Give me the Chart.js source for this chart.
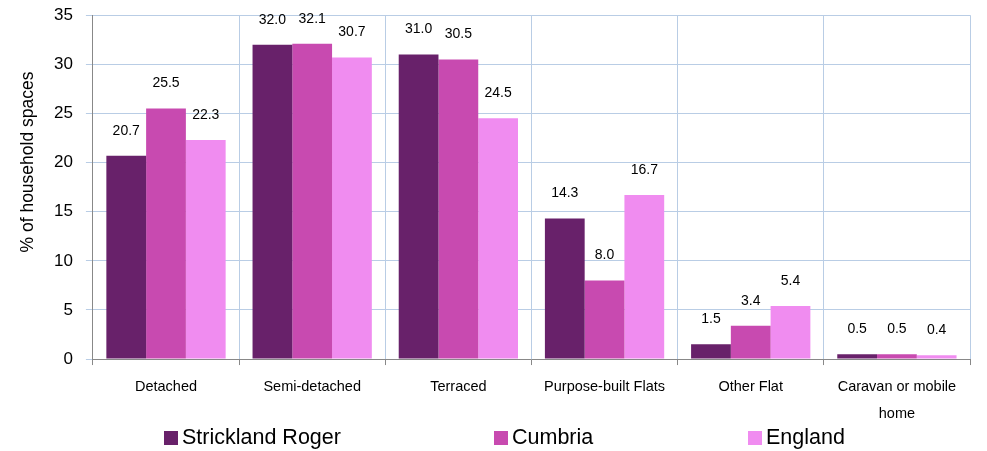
<!DOCTYPE html>
<html>
<head>
<meta charset="utf-8">
<script src="https://cdn.jsdelivr.net/npm/chart.js@4"></script>
<style>
  html, body { margin: 0; padding: 0; background: #fff; overflow: hidden; }
  #wrap { position: relative; width: 987px; height: 451px; overflow: hidden; }
  #grafica { position: absolute; left: 0; top: -8px; }
  #leyenda { position: absolute; left: 0; top: 423px; width: 987px; height: 28px;
             font-family: "Liberation Sans", Arial, sans-serif; font-size: 21.5px; color: #000; }
  #leyenda span.item { position: absolute; top: 0; white-space: nowrap; line-height: 28px; }
  #leyenda i { display: inline-block; width: 14px; height: 14px; margin-right: 4px; vertical-align: -1px; }
</style>
</head>
<body>
<div id="wrap">
  <canvas id="grafica" width="987" height="459"></canvas>
  <div id="leyenda"></div>
</div>
<script>
const categorias = ['Detached', 'Semi-detached', 'Terraced', 'Purpose-built Flats', 'Other Flat', ['Caravan or mobile', 'home']];
const series = ['Strickland Roger', 'Cumbria', 'England'];
const strickland = [20.7, 32.0, 31.0, 14.3, 1.5, 0.5];
const cumbria = [25.5, 32.1, 30.5, 8.0, 3.4, 0.5];
const england = [22.3, 30.7, 24.5, 16.7, 5.4, 0.4];
const tituloY = '% of household spaces';
const colores = ['#68216A', '#C84AB0', '#F08CF0'];
const fuente = '"Liberation Sans", Arial, sans-serif';

// etiquetas de valor encima de cada barra
const etiquetasValor = {
    id: 'etiquetasValor',
    afterDatasetsDraw(chart) {
        const c = chart.ctx;
        c.save();
        c.font = '14px ' + fuente;
        c.fillStyle = '#000';
        c.textAlign = 'center';
        c.textBaseline = 'middle';
        chart.data.datasets.forEach((ds, i) => {
            chart.getDatasetMeta(i).data.forEach((bar, j) => {
                c.fillText(ds.data[j].toFixed(1), bar.x, bar.y - 25);
            });
        });
        c.restore();
    }
};

// titulo del eje Y, algo por encima del centro como en el original
const tituloEjeY = {
    id: 'tituloEjeY',
    afterDraw(chart) {
        const c = chart.ctx;
        c.save();
        c.translate(28, 170);
        c.rotate(-Math.PI / 2);
        c.font = '17.5px ' + fuente;
        c.fillStyle = '#000';
        c.textAlign = 'center';
        c.textBaseline = 'middle';
        c.fillText(tituloY, 0, 0);
        c.restore();
    }
};

const ctx = document.getElementById('grafica').getContext('2d');
new Chart(ctx, {
    type: 'bar',
    data: {
        labels: categorias,
        datasets: [
            { label: series[0], data: strickland, backgroundColor: colores[0] },
            { label: series[1], data: cumbria, backgroundColor: colores[1] },
            { label: series[2], data: england, backgroundColor: colores[2] }
        ]
    },
    options: {
        responsive: false,
        animation: false,
        datasets: { bar: { categoryPercentage: 0.816, barPercentage: 1.0 } },
        layout: { padding: { left: 41, right: 17, top: 1, bottom: 16 } },
        scales: {
            x: {
                grid: { color: '#B9CDE5', tickColor: '#888', tickLength: 6, offset: true },
                border: { color: '#888', width: 1 },
                ticks: { color: '#000', font: { family: fuente, size: 14.5, lineHeight: 1.86 }, maxRotation: 0, padding: 8, autoSkip: false }
            },
            y: {
                min: 0, max: 35,
                grid: { color: '#B9CDE5', tickColor: '#B9CDE5', tickLength: 7 },
                border: { color: '#888', width: 1 },
                ticks: { stepSize: 5, autoSkip: false, color: '#000', font: { family: fuente, size: 17 }, padding: 13 }
            }
        },
        plugins: {
            legend: { display: false },
            tooltip: { enabled: false }
        }
    },
    plugins: [etiquetasValor, tituloEjeY]
});

// leyenda propia, repartida como en el original
const posLeyenda = [164, 494, 748];
const leyenda = document.getElementById('leyenda');
series.forEach((nombre, i) => {
    const item = document.createElement('span');
    item.className = 'item';
    item.style.left = posLeyenda[i] + 'px';
    item.innerHTML = '<i style="background:' + colores[i] + '"></i>' + nombre;
    leyenda.appendChild(item);
});
</script>
</body>
</html>
